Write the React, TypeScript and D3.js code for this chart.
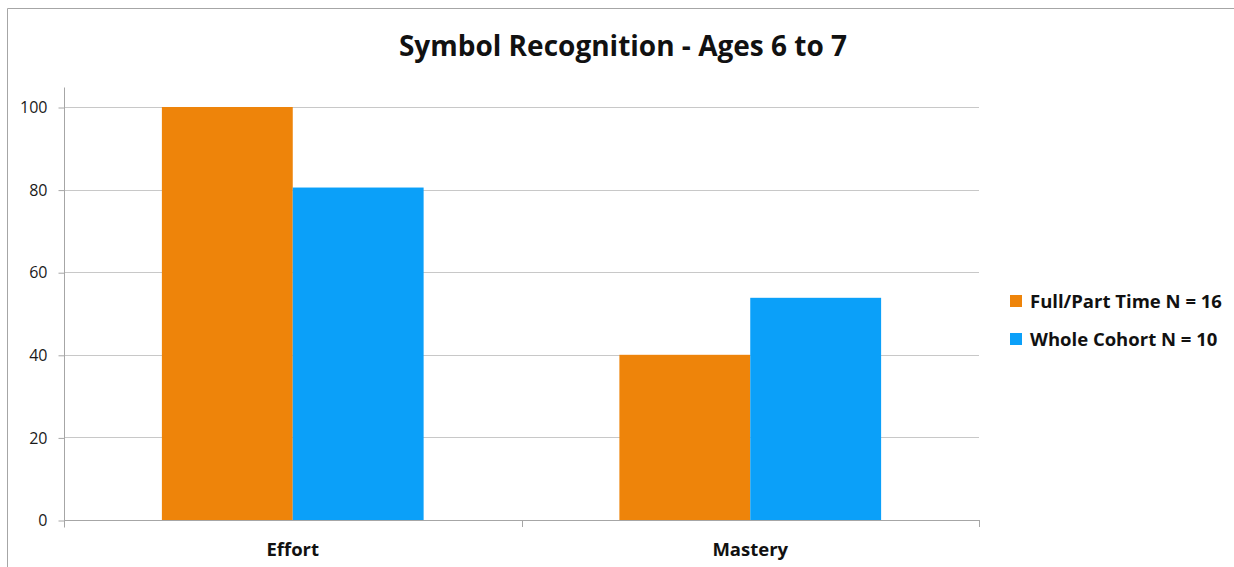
import { useRef, useEffect } from 'react';
import * as d3 from 'd3';

// chart data
const categories = ['Effort', 'Mastery'];
const seriesNames = ['Full/Part Time N = 16', 'Whole Cohort N = 10'];
const fullPartTime = [100, 40];
const wholeCohort = [80.5, 53.8];
const yTicks = [0, 20, 40, 60, 80, 100];
const colors = ['#EE840A', '#0BA0F9'];

const W = 1234;
const H = 567;
const FONT = '"Open Sans", "Liberation Sans", sans-serif';

export default function App() {
  const svgRef = useRef<SVGSVGElement>(null);

  useEffect(() => {
    if (!svgRef.current) return;
    const svg = d3.select(svgRef.current);
    svg.selectAll('*').remove();

    // outer chart border (right/bottom run off the page)
    svg.append('path')
      .attr('d', `M7.5,${H + 2} L7.5,8.5 L${W + 2},8.5`)
      .attr('fill', 'none')
      .attr('stroke', '#a6a6a6')
      .attr('stroke-width', 1);

    const left = 64, right = 979, top = 107, bottom = 520;

    const x0 = d3.scaleBand<string>()
      .domain(categories)
      .range([left, right]);

    const x1 = d3.scaleBand<number>()
      .domain([0, 1])
      .range([0, x0.bandwidth()])
      .paddingOuter(0.748)
      .paddingInner(0);

    const y = d3.scaleLinear().domain([0, 100]).range([bottom, top]);

    // gridlines
    svg.append('g')
      .selectAll('line')
      .data(yTicks.filter(t => t > 0))
      .enter().append('line')
      .attr('x1', left).attr('x2', right)
      .attr('y1', d => Math.round(y(d)) + 0.5)
      .attr('y2', d => Math.round(y(d)) + 0.5)
      .attr('stroke', '#c8c8c8');

    // y axis
    const yAxis = d3.axisLeft(y).tickValues(yTicks).tickSize(6).tickPadding(11);
    const gy = svg.append('g')
      .attr('transform', `translate(${left + 0.5},0.5)`)
      .call(yAxis);
    gy.select('.domain').remove();
    gy.append('line')
      .attr('x1', 0).attr('x2', 0)
      .attr('y1', 87).attr('y2', bottom + 7)
      .attr('stroke', '#a6a6a6');
    gy.selectAll('.tick line').attr('stroke', '#a6a6a6');
    gy.selectAll('.tick text')
      .attr('font-family', FONT)
      .attr('font-size', 16)
      .attr('fill', '#1a1a1a');

    // bars
    const series = [fullPartTime, wholeCohort];
    categories.forEach((cat, ci) => {
      series.forEach((vals, si) => {
        svg.append('rect')
          .attr('x', (x0(cat) ?? 0) + (x1(si) ?? 0))
          .attr('y', y(vals[ci]))
          .attr('width', x1.bandwidth())
          .attr('height', bottom - y(vals[ci]))
          .attr('fill', colors[si]);
      });
    });

    // x axis
    svg.append('line')
      .attr('x1', left).attr('x2', right)
      .attr('y1', bottom + 0.5).attr('y2', bottom + 0.5)
      .attr('stroke', '#a6a6a6');
    const xTickPos = [left, ...categories.map(c => (x0(c) ?? 0) + x0.bandwidth())];
    svg.append('g')
      .selectAll('line')
      .data(xTickPos)
      .enter().append('line')
      .attr('x1', d => Math.round(d) + 0.5).attr('x2', d => Math.round(d) + 0.5)
      .attr('y1', bottom).attr('y2', bottom + 7)
      .attr('stroke', '#a6a6a6');
    svg.append('g')
      .selectAll('text')
      .data(categories)
      .enter().append('text')
      .attr('x', d => (x0(d) ?? 0) + x0.bandwidth() / 2)
      .attr('y', 556)
      .attr('text-anchor', 'middle')
      .attr('font-family', FONT)
      .attr('font-weight', 'bold')
      .attr('font-size', 18.5)
      .attr('fill', '#111')
      .text(d => d);

    // title
    svg.append('text')
      .attr('x', 623)
      .attr('y', 56)
      .attr('text-anchor', 'middle')
      .attr('font-family', FONT)
      .attr('font-weight', 'bold')
      .attr('font-size', 28)
      .attr('fill', '#111')
      .text('Symbol Recognition - Ages 6 to 7');

    // legend
    const lg = svg.append('g').attr('transform', 'translate(1010,0)');
    seriesNames.forEach((name, i) => {
      const cy = 301 + i * 38;
      lg.append('rect')
        .attr('x', 0).attr('y', cy - 6)
        .attr('width', 12).attr('height', 12)
        .attr('fill', colors[i]);
      lg.append('text')
        .attr('x', 20).attr('y', cy + 6.5)
        .attr('font-family', FONT)
        .attr('font-weight', 'bold')
        .attr('font-size', 18.5)
        .attr('fill', '#111')
        .text(name);
    });
  }, []);

  return (
    <svg
      ref={svgRef}
      width={W}
      height={H}
      style={{ position: 'absolute', left: 0, top: 0, background: '#fff' }}
    />
  );
}
